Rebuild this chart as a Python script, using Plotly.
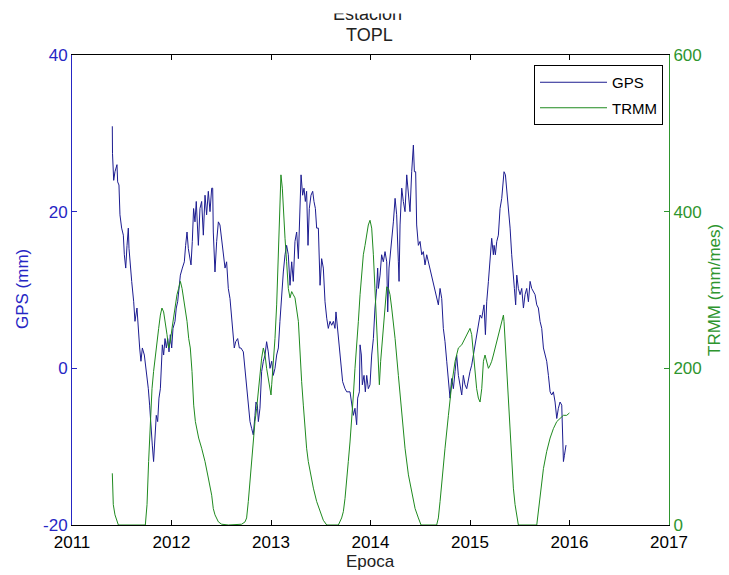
import plotly.graph_objects as go

# ---------------- data ----------------
gps_year = [
    2011.405, 2011.407, 2011.419, 2011.432, 2011.452, 2011.459, 2011.472, 2011.482, 2011.499, 2011.516,
    2011.526, 2011.540, 2011.553, 2011.566, 2011.573, 2011.586, 2011.600, 2011.620, 2011.633, 2011.653,
    2011.667, 2011.680, 2011.693, 2011.707, 2011.727, 2011.740, 2011.754, 2011.767, 2011.780, 2011.794,
    2011.807, 2011.820, 2011.834, 2011.847, 2011.861, 2011.874, 2011.888, 2011.894, 2011.908, 2011.921,
    2011.935, 2011.948, 2011.962, 2011.975, 2011.988, 2012.002, 2012.015, 2012.035, 2012.048, 2012.062,
    2012.075, 2012.089, 2012.109, 2012.129, 2012.142, 2012.156, 2012.169, 2012.182, 2012.196, 2012.209,
    2012.222, 2012.236, 2012.249, 2012.270, 2012.286, 2012.303, 2012.320, 2012.337, 2012.353, 2012.370,
    2012.387, 2012.404, 2012.414, 2012.420, 2012.437, 2012.454, 2012.471, 2012.487, 2012.504, 2012.521,
    2012.538, 2012.554, 2012.571, 2012.588, 2012.605, 2012.621, 2012.631, 2012.645, 2012.665, 2012.682,
    2012.698, 2012.722, 2012.739, 2012.755, 2012.772, 2012.789, 2012.806, 2012.822, 2012.839, 2012.849,
    2012.863, 2012.873, 2012.889, 2012.906, 2012.923, 2012.940, 2012.956, 2012.973, 2012.990, 2013.007,
    2013.023, 2013.040, 2013.057, 2013.074, 2013.090, 2013.107, 2013.124, 2013.141, 2013.157, 2013.174,
    2013.191, 2013.208, 2013.224, 2013.241, 2013.258, 2013.275, 2013.292, 2013.302, 2013.318, 2013.332,
    2013.345, 2013.358, 2013.372, 2013.385, 2013.402, 2013.419, 2013.432, 2013.446, 2013.459, 2013.476,
    2013.493, 2013.509, 2013.526, 2013.543, 2013.560, 2013.576, 2013.593, 2013.610, 2013.627, 2013.643,
    2013.653, 2013.667, 2013.687, 2013.700, 2013.720, 2013.744, 2013.761, 2013.794, 2013.811, 2013.828,
    2013.844, 2013.861, 2013.871, 2013.888, 2013.895, 2013.908, 2013.918, 2013.935, 2013.948, 2013.962,
    2013.978, 2013.995, 2014.012, 2014.029, 2014.045, 2014.062, 2014.072, 2014.079, 2014.096, 2014.112,
    2014.129, 2014.146, 2014.163, 2014.173, 2014.186, 2014.200, 2014.213, 2014.230, 2014.247, 2014.263,
    2014.280, 2014.287, 2014.297, 2014.314, 2014.330, 2014.347, 2014.364, 2014.381, 2014.397, 2014.414,
    2014.431, 2014.441, 2014.454, 2014.464, 2014.481, 2014.498, 2014.515, 2014.531, 2014.548, 2014.565,
    2014.582, 2014.598, 2014.615, 2014.632, 2014.649, 2014.665, 2014.682, 2014.699, 2014.716, 2014.732,
    2014.749, 2014.766, 2014.783, 2014.799, 2014.816, 2014.833, 2014.850, 2014.866, 2014.883, 2014.900,
    2014.917, 2014.933, 2014.950, 2014.967, 2014.984, 2015.000, 2015.017, 2015.034, 2015.051, 2015.067,
    2015.084, 2015.101, 2015.118, 2015.134, 2015.141, 2015.155, 2015.168, 2015.185, 2015.202, 2015.218,
    2015.235, 2015.242, 2015.255, 2015.269, 2015.285, 2015.302, 2015.319, 2015.329, 2015.342, 2015.356,
    2015.369, 2015.386, 2015.403, 2015.419, 2015.436, 2015.446, 2015.459, 2015.470, 2015.486, 2015.503,
    2015.520, 2015.537, 2015.553, 2015.570, 2015.587, 2015.604, 2015.620, 2015.637, 2015.654, 2015.671,
    2015.687, 2015.704, 2015.721, 2015.738, 2015.754, 2015.771, 2015.788, 2015.805, 2015.821, 2015.838,
    2015.855, 2015.872, 2015.888, 2015.905, 2015.922, 2015.932, 2015.939, 2015.949, 2015.955, 2015.965,
]
gps_mm = [
    30.9, 27.4, 24.0, 25.1, 26.0, 23.8, 23.4, 19.6, 17.9, 17.0,
    14.5, 12.8, 15.7, 17.9, 15.3, 12.8, 11.1, 8.5, 6.0, 7.7,
    4.3, 2.6, 0.9, 2.6, 1.7, 0.4, -0.9, -2.6, -4.7, -6.8,
    -9.8, -11.9, -7.7, -6.0, -6.8, -3.8, -2.6, 0.0, 3.0, 1.7,
    3.8, 2.6, 3.8, 2.1, 4.3, 2.6, 5.1, 6.0, 7.7, 8.5,
    10.2, 11.9, 12.8, 13.6, 15.7, 17.4, 15.3, 14.5, 13.2, 16.2,
    20.4, 18.7, 21.3, 15.7, 20.4, 21.3, 17.0, 22.1, 19.6, 22.6,
    20.0, 23.0, 23.0, 17.4, 12.3, 16.2, 18.7, 18.3, 16.2, 14.5,
    12.8, 13.6, 10.2, 8.9, 6.4, 3.4, 2.6, 3.4, 3.8, 2.6,
    2.6, 2.1, -0.4, -2.6, -5.1, -6.8, -7.7, -8.5, -6.0, -4.3,
    -4.7, -6.8, -5.1, -0.4, 0.9, 1.7, 3.4, 2.1, 0.0, 0.9,
    -0.9, 0.0, 1.7, 2.6, 6.0, 9.4, 12.3, 14.5, 15.7, 14.5,
    10.6, 13.6, 11.1, 16.2, 17.4, 14.0, 20.4, 24.7, 22.1, 23.0,
    21.3, 22.6, 15.7, 20.4, 22.1, 22.6, 21.3, 20.4, 17.9, 17.9,
    10.6, 14.0, 12.8, 8.5, 6.4, 5.1, 6.0, 5.5, 6.0, 5.1,
    7.2, 5.5, 3.0, 1.3, -1.7, -2.6, -3.0, -3.0, -4.3, -6.0,
    -5.1, -7.2, -3.8, -3.0, 3.0, 1.7, -2.1, -0.9, -3.0, -0.9,
    -2.6, -2.1, 1.7, 3.8, 7.7, 10.2, 12.8, 10.2, 11.9, 14.5,
    13.6, 14.9, 13.6, 7.2, 12.8, 14.5, 16.6, 18.7, 21.7, 19.6,
    13.6, 11.1, 18.3, 23.0, 21.3, 20.0, 24.7, 22.6, 20.0, 25.1,
    28.5, 25.1, 25.1, 18.3, 15.7, 16.2, 14.5, 14.9, 13.2, 14.5,
    13.6, 12.8, 11.9, 10.6, 9.8, 8.9, 8.1, 10.2, 8.9, 5.1,
    3.4, 0.9, -1.7, -3.8, -1.3, -2.6, -0.4, 1.7, -0.9, -2.1,
    -3.4, -0.9, -2.1, -2.6, -1.3, -0.4, 0.4, 1.7, 3.0, 4.7,
    6.0, 6.8, 6.4, 8.1, 8.1, 4.3, 8.5, 11.1, 14.5, 16.6,
    14.5, 15.7, 14.5, 16.2, 17.0, 20.4, 21.7, 23.0, 25.1, 24.7,
    23.0, 20.4, 17.9, 14.5, 12.3, 10.2, 8.1, 11.9, 10.2, 9.4,
    10.2, 7.7, 9.4, 10.2, 8.5, 11.1, 10.2, 9.8, 9.4, 8.1,
    7.7, 6.0, 5.1, 2.6, 1.7, 0.9, -0.9, -3.0, -3.4, -3.0,
    -4.3, -6.4, -5.1, -4.3, -4.7, -8.5, -11.9, -11.1, -10.2, -9.8,
]

trmm_year = [
    2011.405, 2011.415, 2011.432, 2011.466, 2011.737, 2011.754, 2011.770, 2011.787, 2011.804, 2011.820,
    2011.837, 2011.854, 2011.871, 2011.888, 2011.904, 2011.921, 2011.938, 2011.955, 2011.971, 2011.988,
    2012.005, 2012.022, 2012.039, 2012.055, 2012.072, 2012.089, 2012.106, 2012.122, 2012.139, 2012.156,
    2012.173, 2012.189, 2012.206, 2012.223, 2012.240, 2012.256, 2012.273, 2012.303, 2012.337, 2012.370,
    2012.404, 2012.420, 2012.437, 2012.471, 2012.504, 2012.571, 2012.705, 2012.739, 2012.755, 2012.772,
    2012.789, 2012.806, 2012.822, 2012.839, 2012.856, 2012.873, 2012.889, 2012.906, 2012.923, 2012.940,
    2012.956, 2012.973, 2012.990, 2013.000, 2013.007, 2013.023, 2013.040, 2013.057, 2013.074, 2013.090,
    2013.100, 2013.114, 2013.124, 2013.141, 2013.157, 2013.174, 2013.191, 2013.208, 2013.224, 2013.241,
    2013.275, 2013.292, 2013.308, 2013.325, 2013.342, 2013.358, 2013.375, 2013.392, 2013.426, 2013.459,
    2013.493, 2013.526, 2013.560, 2013.677, 2013.710, 2013.727, 2013.744, 2013.761, 2013.777, 2013.794,
    2013.811, 2013.828, 2013.844, 2013.861, 2013.878, 2013.895, 2013.911, 2013.928, 2013.945, 2013.962,
    2013.978, 2013.995, 2014.012, 2014.029, 2014.045, 2014.062, 2014.079, 2014.089, 2014.102, 2014.112,
    2014.129, 2014.146, 2014.163, 2014.180, 2014.196, 2014.213, 2014.247, 2014.280, 2014.314, 2014.347,
    2014.381, 2014.414, 2014.448, 2014.481, 2014.508, 2014.665, 2014.682, 2014.699, 2014.716, 2014.749,
    2014.783, 2014.816, 2014.850, 2014.883, 2014.917, 2014.950, 2014.984, 2015.000, 2015.017, 2015.034,
    2015.051, 2015.067, 2015.084, 2015.101, 2015.118, 2015.135, 2015.151, 2015.168, 2015.185, 2015.202,
    2015.218, 2015.235, 2015.252, 2015.269, 2015.285, 2015.302, 2015.319, 2015.336, 2015.342, 2015.352,
    2015.369, 2015.386, 2015.403, 2015.419, 2015.436, 2015.453, 2015.470, 2015.486, 2015.671, 2015.688,
    2015.704, 2015.721, 2015.738, 2015.771, 2015.805, 2015.838, 2015.872, 2015.905, 2015.939, 2015.972,
    2015.999,
]
trmm_mm_mes = [
    66, 26, 13, 0, 0, 26, 81, 132, 174, 196,
    217, 234, 251, 268, 277, 272, 260, 243, 226, 234,
    251, 268, 285, 294, 302, 311, 302, 289, 277, 260,
    238, 226, 196, 153, 132, 119, 111, 98, 81, 60,
    38, 21, 13, 4, 1, 0, 1, 4, 9, 30,
    55, 85, 111, 132, 149, 174, 191, 213, 226, 217,
    200, 187, 174, 166, 179, 204, 238, 281, 345, 409,
    447, 430, 400, 366, 336, 302, 290, 298, 294, 290,
    260, 217, 183, 153, 123, 98, 81, 68, 47, 30,
    17, 6, 0, 0, 9, 17, 34, 55, 81, 106,
    132, 166, 200, 226, 260, 294, 323, 345, 357, 370,
    383, 389, 379, 345, 302, 247, 196, 179, 209, 226,
    251, 285, 304, 302, 294, 277, 238, 191, 140, 98,
    64, 43, 21, 9, 0, 0, 9, 30, 55, 98,
    140, 179, 209, 226, 230, 238, 247, 251, 243, 217,
    191, 174, 162, 157, 174, 209, 217, 209, 200, 204,
    209, 217, 226, 234, 243, 251, 260, 268, 260, 238,
    196, 153, 111, 77, 47, 26, 9, 0, 0, 17,
    38, 55, 72, 94, 111, 123, 132, 136, 140, 140,
    143,
]

x_ticks = [2011, 2012, 2013, 2014, 2015, 2016, 2017]
gps_ticks = [-20, 0, 20, 40]
gps_tick_text = ["-20", "0", "20", "40"]
trmm_ticks = [0, 200, 400, 600]

# ---------------- styling ----------------
W, H = 729, 575
L, R, T, B = 72, 60, 55, 50
PW, PH = W - L - R, H - T - B
FONT = "Liberation Sans, Arial, Helvetica, sans-serif"
BLUE_LINE = "#1c1c90"
BLUE_AX = "#2626c4"
GREEN_LINE = "#1f8a1f"
GREEN_AX = "#2e952e"


def px(x):
    return (x - L) / PW


def py(y):
    return (H - B - y) / PH


fig = go.Figure()
fig.add_trace(go.Scatter(x=gps_year, y=gps_mm, mode="lines", name="GPS",
                         legendgroup="a",
                         line=dict(color=BLUE_LINE, width=1)))
fig.add_trace(go.Scatter(x=trmm_year, y=trmm_mm_mes, mode="lines", name="TRMM",
                         legendgroup="b",
                         line=dict(color=GREEN_LINE, width=1), yaxis="y2"))

fig.update_layout(
    width=W, height=H,
    margin=dict(l=L, r=R, t=T, b=B, pad=0),
    paper_bgcolor="white", plot_bgcolor="white",
    font=dict(family=FONT, size=17, color="black"),
    xaxis=dict(range=[2011, 2017], tickvals=x_ticks, tickformat="d",
               ticks="inside", ticklen=5, tickcolor="black",
               showline=True, linecolor="black", linewidth=1, mirror="ticks",
               showgrid=False, zeroline=False, ticklabelstandoff=2,
               tickfont=dict(size=17, color="black")),
    yaxis=dict(range=[-20, 40], tickvals=gps_ticks, ticktext=gps_tick_text,
               ticks="inside", ticklen=5, tickcolor=BLUE_AX,
               showline=True, linecolor=BLUE_AX, linewidth=1,
               showgrid=False, zeroline=False,
               tickfont=dict(size=17, color=BLUE_AX)),
    yaxis2=dict(range=[0, 600], tickvals=trmm_ticks, overlaying="y", side="right",
                ticks="inside", ticklen=5, tickcolor=GREEN_AX,
                showline=True, linecolor=GREEN_AX, linewidth=1,
                showgrid=False, zeroline=False,
                tickfont=dict(size=17, color=GREEN_AX)),
    legend=dict(x=px(663), y=py(65), xanchor="right", yanchor="top",
                bgcolor="white", bordercolor="black", borderwidth=1,
                font=dict(size=15, color="black"), itemwidth=67,
                tracegroupgap=3),
    showlegend=True,
)

annotations = [
    dict(text="Estacion", x=px(367), y=py(14), xref="paper", yref="paper",
         xanchor="center", yanchor="middle", showarrow=False,
         font=dict(size=18, color="#222222")),
    dict(text=" ", x=px(367), y=py(-2), xref="paper", yref="paper",
         xanchor="center", yanchor="top", showarrow=False, width=110, height=14,
         bgcolor="white", borderpad=0, font=dict(size=8)),
    dict(text="TOPL", x=px(369), y=py(35), xref="paper", yref="paper",
         xanchor="center", yanchor="middle", showarrow=False,
         font=dict(size=18, color="#222222")),
    dict(text="Epoca", x=px(370), y=py(561), xref="paper", yref="paper",
         xanchor="center", yanchor="middle", showarrow=False,
         font=dict(size=17, color="#222222")),
    dict(text="GPS (mm)", x=px(22), y=py(289), xref="paper", yref="paper",
         xanchor="center", yanchor="middle", showarrow=False, textangle=-90,
         font=dict(size=17, color=BLUE_AX)),
    dict(text="TRMM (mm/mes)", x=px(714), y=py(290), xref="paper", yref="paper",
         xanchor="center", yanchor="middle", showarrow=False, textangle=-90,
         font=dict(size=17, color=GREEN_AX)),
]
fig.update_layout(annotations=annotations)

fig.write_html("out.html")
